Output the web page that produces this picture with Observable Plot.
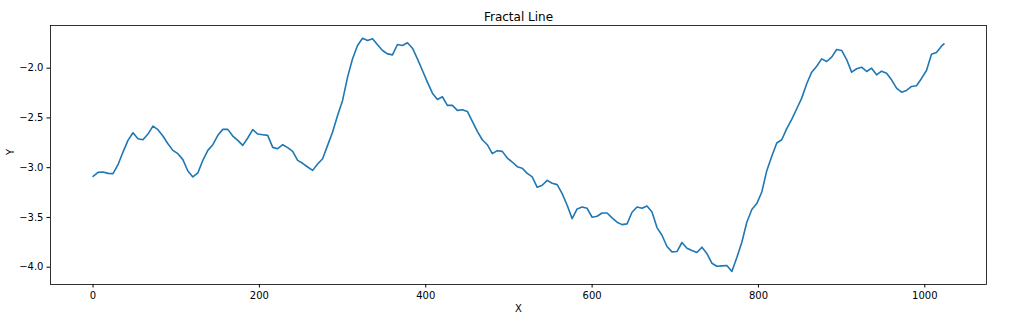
<!DOCTYPE html>
<html>
<head>
<meta charset="utf-8">
<script src="https://cdn.jsdelivr.net/npm/d3@7"></script>
<script src="https://cdn.jsdelivr.net/npm/@observablehq/plot@0.6"></script>
<style>
  html, body { margin: 0; padding: 0; background: #fff; }
  #chart svg { display: block; }
</style>
</head>
<body>
<div id="chart"></div>
<script>
const title = "Fractal Line";
const xLabel = "X";
const yLabel = "Y";
const xTicks = [0, 200, 400, 600, 800, 1000];
const yTicks = [-4.0, -3.5, -3.0, -2.5, -2.0];

const xs = [0,6,12,18,24,30,36,42,48,54,60,66,72,78,84,90,96,102,108,114,120,126,132,138,144,150,156,162,168,174,
180,186,192,198,204,210,216,222,228,234,240,246,252,258,264,270,276,282,288,294,300,306,312,318,324,330,336,342,348,354,
360,366,372,378,384,390,396,402,408,414,420,426,432,438,444,450,456,462,468,474,480,486,492,498,504,510,516,522,528,534,
540,546,552,558,564,570,576,582,588,594,600,606,612,618,624,630,636,642,648,654,660,666,672,678,684,690,696,702,708,714,
720,726,732,738,744,750,756,762,768,774,780,786,792,798,804,810,816,822,828,834,840,846,852,858,864,870,876,882,888,894,
900,906,912,918,924,930,936,942,948,954,960,966,972,978,984,990,996,1002,1008,1014,1020,1023];

const ys = [-3.087,-3.047,-3.043,-3.057,-3.060,-2.970,-2.843,-2.726,-2.649,-2.709,-2.719,-2.662,-2.582,-2.618,-2.682,-2.759,-2.826,-2.859,-2.919,-3.033,
-3.093,-3.053,-2.926,-2.826,-2.769,-2.675,-2.615,-2.615,-2.682,-2.726,-2.776,-2.702,-2.618,-2.662,-2.669,-2.675,-2.796,-2.809,-2.769,-2.799,
-2.836,-2.926,-2.956,-2.993,-3.027,-2.963,-2.910,-2.776,-2.642,-2.475,-2.324,-2.090,-1.906,-1.772,-1.699,-1.722,-1.705,-1.765,-1.822,-1.856,
-1.866,-1.762,-1.772,-1.745,-1.799,-1.906,-2.023,-2.140,-2.251,-2.314,-2.287,-2.374,-2.374,-2.424,-2.418,-2.435,-2.535,-2.635,-2.719,-2.769,
-2.859,-2.829,-2.836,-2.903,-2.943,-2.990,-3.005,-3.057,-3.093,-3.197,-3.177,-3.127,-3.157,-3.170,-3.261,-3.378,-3.512,-3.415,-3.395,-3.408,
-3.498,-3.488,-3.455,-3.455,-3.505,-3.548,-3.572,-3.565,-3.448,-3.395,-3.408,-3.385,-3.445,-3.602,-3.679,-3.792,-3.846,-3.843,-3.752,-3.809,
-3.833,-3.853,-3.799,-3.863,-3.960,-3.990,-3.987,-3.983,-4.043,-3.903,-3.749,-3.548,-3.421,-3.361,-3.244,-3.030,-2.886,-2.752,-2.719,-2.608,
-2.515,-2.408,-2.301,-2.157,-2.040,-1.980,-1.906,-1.933,-1.889,-1.812,-1.822,-1.913,-2.040,-2.006,-1.990,-2.033,-2.000,-2.067,-2.030,-2.050,
-2.117,-2.200,-2.241,-2.224,-2.184,-2.177,-2.103,-2.023,-1.859,-1.842,-1.779,-1.755];

const data = xs.map((x, i) => ({x, y: ys[i]}));

const chart = Plot.plot({
  width: 1022,
  height: 320,
  marginLeft: 50,
  marginRight: 36,
  marginTop: 25,
  marginBottom: 36,
  style: {fontFamily: "'DejaVu Sans', sans-serif", fontSize: "10px", color: "#000", background: "#fff"},
  x: {domain: [-51.15, 1074.15], label: null},
  y: {domain: [-4.174, -1.571], label: null},
  marks: [
    Plot.line(data, {x: "x", y: "y", stroke: "#1f77b4", strokeWidth: 1.6}),
    Plot.frame({stroke: "#000", strokeWidth: 0.8}),
    Plot.axisX({ticks: xTicks, tickSize: 3.5, tickPadding: 3.5, label: null, tickFormat: d3.format("d"), stroke: "#000", fill: "#000", fontSize: 10}),
    Plot.axisY({ticks: yTicks, tickSize: 3.5, tickPadding: 3.5, label: null, tickFormat: d3.format(".1f"), stroke: "#000", fill: "#000", fontSize: 10}),
    Plot.text([title], {frameAnchor: "top", dy: -13, fontSize: 12, fill: "#000"}),
    Plot.text([xLabel], {frameAnchor: "bottom", dy: 27, fontSize: 10, fill: "#000"}),
    Plot.text([yLabel], {frameAnchor: "left", dx: -40, rotate: -90, fontSize: 10, fill: "#000"})
  ]
});
document.getElementById("chart").appendChild(chart);
</script>
</body>
</html>
